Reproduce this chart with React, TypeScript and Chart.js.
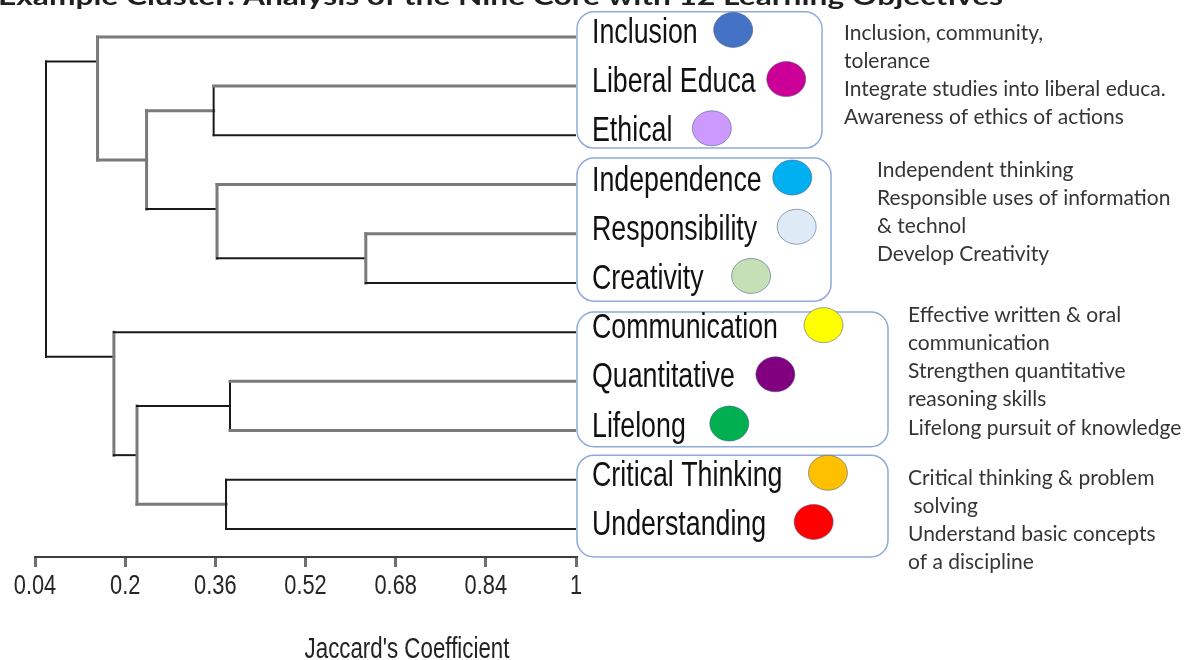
import React, { useEffect, useRef } from "react";
import { Chart, registerables } from "chart.js";

Chart.register(...registerables);

// ---------- data ----------
const chartTitle = "Example Cluster: Analysis of the Nine Core with 12 Learning Objectives";
const axisTitle = "Jaccard's Coefficient";
const tickValues = [0.04, 0.2, 0.36, 0.52, 0.68, 0.84, 1];
const tickLabels = ["0.04", "0.2", "0.36", "0.52", "0.68", "0.84", "1"];

const leafLabels = [
  "Inclusion",
  "Liberal Educa",
  "Ethical",
  "Independence",
  "Responsibility",
  "Creativity",
  "Communication",
  "Quantitative",
  "Lifelong",
  "Critical Thinking",
  "Understanding",
];
const leafColors = [
  "#4472C4",
  "#CC0099",
  "#CC99FF",
  "#00B0F0",
  "#DEEBF7",
  "#C5E0B4",
  "#FFFF00",
  "#800080",
  "#00B050",
  "#FFC000",
  "#FF0000",
];

// merges: children ids (0..10 = leaves, 11+k = merge k)
const mergeTop = [1, 4, 3, 11, 0, 7, 9, 16, 6, 15];
const mergeBottom = [2, 5, 12, 13, 14, 8, 10, 17, 18, 19];
const mergeHeight = [0.357, 0.627, 0.363, 0.238, 0.151, 0.386, 0.379, 0.221, 0.18, 0.0595];
const mergeStem = [1.5, 4.5, 3.5, 2.5, 0.5, 7.5, 9.5, 8.5, 6.5, 3.5];

const groupLeaves = [
  [0, 1, 2],
  [3, 4, 5],
  [6, 7, 8],
  [9, 10],
];
const groupNotes = [
  ["Inclusion, community,", "tolerance", "Integrate studies into liberal educa.", "Awareness of ethics of actions"],
  ["Independent thinking", "Responsible uses of information", "& technol", "Develop Creativity"],
  ["Effective written & oral", "communication", "Strengthen quantitative", "reasoning skills", "Lifelong pursuit of knowledge"],
  ["Critical thinking & problem", " solving", "Understand basic concepts", "of a discipline"],
];

// ---------- styles / layout ----------
// tone per merge: vertical, top arm, bottom arm (g = grey, k = black)
const mergeTone = ["kgk", "ggk", "ggk", "ggk", "ggg", "kgg", "kkk", "gkg", "gkk", "kkk"];
const GREY = "#7a7a7a";
const BLACK = "#1a1a1a";
const groupSpan = [
  [-0.51, 2.26],
  [2.46, 5.37],
  [5.59, 8.33],
  [8.5, 10.57],
];
const groupBoxRight = [822, 831, 888, 888];
const groupNoteX = [844, 877, 908, 908];
const groupNoteY = [33, 170, 315, 478];
const markerGap = [16, 11, 20, 11, 20, 28, 26, 21, 24, 26, 28];

const NLEAF = leafLabels.length;

function posOf(id: number) {
  return id < NLEAF ? id : mergeStem[id - NLEAF];
}
function heightOf(id: number) {
  return id < NLEAF ? 1 : mergeHeight[id - NLEAF];
}

function buildDatasets() {
  const ds: any[] = [];
  const seg = (x1: number, y1: number, x2: number, y2: number, tone: string) => {
    ds.push({
      data: [
        { x: x1, y: y1 },
        { x: x2, y: y2 },
      ],
      showLine: true,
      borderColor: tone === "g" ? GREY : BLACK,
      borderWidth: tone === "g" ? 3 : 2,
      pointRadius: 0,
      borderCapStyle: "square",
      fill: false,
    });
  };
  for (let k = 0; k < mergeHeight.length; k++) {
    const h = mergeHeight[k];
    const a = mergeTop[k];
    const b = mergeBottom[k];
    const ya = posOf(a);
    const yb = posOf(b);
    const t = mergeTone[k];
    seg(h, ya, heightOf(a), ya, t[1]);
    seg(h, yb, heightOf(b), yb, t[2]);
    seg(h, ya, h, yb, t[0]);
  }
  return ds;
}

function roundRect(ctx: CanvasRenderingContext2D, x: number, y: number, w: number, h: number, r: number) {
  ctx.beginPath();
  ctx.moveTo(x + r, y);
  ctx.lineTo(x + w - r, y);
  ctx.arcTo(x + w, y, x + w, y + r, r);
  ctx.lineTo(x + w, y + h - r);
  ctx.arcTo(x + w, y + h, x + w - r, y + h, r);
  ctx.lineTo(x + r, y + h);
  ctx.arcTo(x, y + h, x, y + h - r, r);
  ctx.lineTo(x, y + r);
  ctx.arcTo(x, y, x + r, y, r);
  ctx.closePath();
}

function squeezedText(ctx: CanvasRenderingContext2D, text: string, x: number, y: number, sx: number, align: "left" | "center") {
  const w = ctx.measureText(text).width * sx;
  ctx.save();
  ctx.translate(align === "center" ? x - w / 2 : x, y);
  ctx.scale(sx, 1);
  ctx.textAlign = "left";
  ctx.fillText(text, 0, 0);
  ctx.restore();
  return w;
}

const overlayPlugin = {
  id: "overlay",
  afterDraw(chart: any) {
    const ctx: CanvasRenderingContext2D = chart.ctx;
    const xs = chart.scales.x;
    const ys = chart.scales.y;
    ctx.save();
    ctx.textBaseline = "alphabetic";

    // title (clipped at the top, as in the reference)
    ctx.font = 'bold 25px Lato, "Liberation Sans", sans-serif';
    ctx.fillStyle = "#1f1f1f";
    const tw = ctx.measureText(chartTitle).width;
    squeezedText(ctx, chartTitle, -2, 5, 1005 / tw, "left");

    // group boxes
    ctx.strokeStyle = "#8FAADC";
    ctx.lineWidth = 1.5;
    for (let g = 0; g < groupLeaves.length; g++) {
      const top = ys.getPixelForValue(groupSpan[g][0]);
      const bot = ys.getPixelForValue(groupSpan[g][1]);
      const left = xs.getPixelForValue(1) + 1;
      roundRect(ctx, left, top, groupBoxRight[g] - left, bot - top, 17);
      ctx.stroke();
    }

    // leaf labels + markers
    const labelX = xs.getPixelForValue(1) + 16;
    ctx.font = '35px "Liberation Sans", Arial, sans-serif';
    for (let i = 0; i < NLEAF; i++) {
      const y = ys.getPixelForValue(i);
      ctx.fillStyle = "#111111";
      const w = squeezedText(ctx, leafLabels[i], labelX, y + 6, 0.765, "left");
      const cx = labelX + w + markerGap[i] + 19.5;
      const cy = y - 7;
      ctx.beginPath();
      ctx.ellipse(cx, cy, 19.5, 17.5, 0, 0, Math.PI * 2);
      ctx.fillStyle = leafColors[i];
      ctx.fill();
      ctx.strokeStyle = "rgba(70,90,130,0.55)";
      ctx.lineWidth = 1;
      ctx.stroke();
    }

    // notes
    ctx.font = '21px Lato, "Open Sans", sans-serif';
    ctx.fillStyle = "#353535";
    ctx.textBaseline = "middle";
    for (let g = 0; g < groupNotes.length; g++) {
      groupNotes[g].forEach((line, j) => {
        ctx.fillText(line, groupNoteX[g], groupNoteY[g] + j * 28.2);
      });
    }
    ctx.textBaseline = "alphabetic";

    // tick labels
    ctx.font = '28px "Liberation Sans", Arial, sans-serif';
    ctx.fillStyle = "#262626";
    xs.ticks.forEach((t: any, i: number) => {
      const px = xs.getPixelForValue(t.value);
      squeezedText(ctx, tickLabels[i] ?? String(t.value), px, 594, 0.78, "center");
    });

    // axis title
    ctx.font = '29px "Liberation Sans", Arial, sans-serif';
    ctx.fillStyle = "#222222";
    squeezedText(ctx, axisTitle, 407, 658, 0.77, "center");

    ctx.restore();
  },
};

export default function App() {
  const ref = useRef<HTMLCanvasElement | null>(null);
  useEffect(() => {
    if (!ref.current) return;
    const chart = new Chart(ref.current, {
      type: "scatter",
      data: { datasets: buildDatasets() },
      options: {
        animation: false,
        responsive: false,
        events: [],
        layout: { padding: { left: 35, right: 617, top: 0, bottom: 93 } },
        scales: {
          x: {
            type: "linear",
            min: tickValues[0],
            max: tickValues[tickValues.length - 1],
            afterBuildTicks: (scale: any) => {
              scale.ticks = tickValues.map((v) => ({ value: v }));
            },
            ticks: { display: false },
            grid: {
              display: true,
              drawOnChartArea: false,
              drawTicks: true,
              tickLength: 10,
              color: "#6f6f6f",
              lineWidth: 3,
            },
            border: { display: true, color: "#3f3f3f", width: 2 },
          },
          y: {
            type: "linear",
            display: false,
            min: -0.75,
            max: 10.57,
            reverse: true,
          },
        },
        plugins: {
          legend: { display: false },
          tooltip: { enabled: false },
          title: { display: false },
        },
      },
      plugins: [overlayPlugin],
    });
    return () => chart.destroy();
  }, []);
  return (
    <div style={{ position: "fixed", left: 0, top: 0, width: 1193, height: 660, background: "#fff" }}>
      <canvas ref={ref} width={1193} height={660} />
    </div>
  );
}
